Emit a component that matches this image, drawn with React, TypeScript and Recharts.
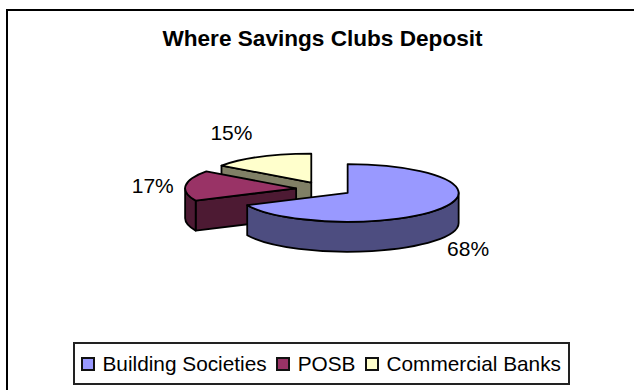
import React from 'react';
import { PieChart, Pie, Legend } from 'recharts';

const categories = ['Building Societies', 'POSB', 'Commercial Banks'];
const shares = [68, 17, 15];
const topColors = ['#9999FF', '#993366', '#FFFFCC'];
const sideColors = ['#4D4D80', '#4D1A33', '#808066'];

// last slice first, so the front slice paints over the ones behind it
const pieData = categories
  .map((name, i) => ({ name, value: shares[i], fill: topColors[i], side: sideColors[i] }))
  .reverse();

const SQUASH = 0.26;
const DEPTH = 30;
const EXPLODE = 28;
const LABEL_RX = 145;
const LABEL_RY = 74;
const LABEL_DROP = 16;

// hand placement for the percentage labels, by slice
const labelNudge: Record<string, [number, number]> = {
  'Building Societies': [-2, 0],
  POSB: [1, -12],
  'Commercial Banks': [-14, 0],
};

const rad = (deg: number) => (deg * Math.PI) / 180;

const rimPoint = (cx: number, cy: number, r: number, deg: number) => ({
  x: cx + r * Math.cos(rad(deg)),
  y: cy - r * SQUASH * Math.sin(rad(deg)),
});

// Centre of a slice once it is pulled out along its mid angle
const explodedCentre = (cx: number, cy: number, mid: number) => ({
  x: cx + EXPLODE * Math.cos(rad(mid)),
  y: cy - EXPLODE * SQUASH * Math.sin(rad(mid)),
});

const Slice3D = (props: any) => {
  const { cx, cy, outerRadius: r, startAngle, endAngle, fill, payload } = props;
  const s = Math.min(startAngle, endAngle);
  const e = Math.max(startAngle, endAngle);
  const c = explodedCentre(cx, cy, (s + e) / 2);
  const ry = r * SQUASH;
  const a = rimPoint(c.x, c.y, r, s);
  const b = rimPoint(c.x, c.y, r, e);
  const large = e - s > 180 ? 1 : 0;
  const faces: string[] = [];

  // Cut faces, only where they turn towards the viewer
  const cutFace = (p: { x: number; y: number }) =>
    `M${c.x},${c.y} L${p.x},${p.y} L${p.x},${p.y + DEPTH} L${c.x},${c.y + DEPTH} Z`;
  if (Math.sin(rad(s - 90)) < -1e-6) faces.push(cutFace(a));
  if (Math.sin(rad(e + 90)) < -1e-6) faces.push(cutFace(b));

  // Outer wall covers the part of the arc on the front half (180..360)
  const wallFrom = Math.max(s, 180);
  const wallTo = Math.min(e, 360);
  if (wallTo > wallFrom) {
    const p = rimPoint(c.x, c.y, r, wallFrom);
    const q = rimPoint(c.x, c.y, r, wallTo);
    faces.push(
      `M${p.x},${p.y} A${r},${ry} 0 0 0 ${q.x},${q.y} L${q.x},${q.y + DEPTH} A${r},${ry} 0 0 1 ${p.x},${p.y + DEPTH} Z`,
    );
  }

  return (
    <g>
      {faces.map((d) => (
        <path key={d} d={d} fill={payload.side} stroke="#000" strokeWidth={1.8} strokeLinejoin="round" />
      ))}
      <path
        d={`M${c.x},${c.y} L${a.x},${a.y} A${r},${ry} 0 ${large} 0 ${b.x},${b.y} Z`}
        fill={fill}
        stroke="#000"
        strokeWidth={1.8}
        strokeLinejoin="round"
      />
    </g>
  );
};

const renderLabel = (props: any) => {
  const { cx, cy, midAngle, value, name } = props;
  const c = explodedCentre(cx, cy, midAngle);
  const [dx, dy] = labelNudge[name] ?? [0, 0];
  return (
    <text
      x={c.x + LABEL_RX * Math.cos(rad(midAngle)) + dx}
      y={c.y - LABEL_RY * Math.sin(rad(midAngle)) + LABEL_DROP + dy}
      textAnchor="middle"
      dominantBaseline="central"
      fontFamily="Liberation Sans"
      fontSize={21}
      fill="#000"
    >
      {value}%
    </text>
  );
};

const LegendBox = () => (
  <div
    style={{
      boxSizing: 'border-box',
      width: 497,
      height: 43,
      border: '2px solid #222',
      background: '#fff',
      display: 'flex',
      alignItems: 'center',
      paddingLeft: 6,
      fontFamily: 'Liberation Sans',
      fontSize: 20.8,
      color: '#000',
      whiteSpace: 'nowrap',
    }}
  >
    {categories.map((name, i) => (
      <span key={name} style={{ display: 'flex', alignItems: 'center', marginRight: 9.5 }}>
        <span
          style={{
            boxSizing: 'border-box',
            width: 14,
            height: 14,
            marginRight: 7.5,
            border: '2px solid #111',
            background: topColors[i],
          }}
        />
        {name}
      </span>
    ))}
  </div>
);

export default function App() {
  return (
    <div style={{ position: 'absolute', left: 0, top: 0, width: 634, height: 390, background: '#fff', overflow: 'hidden' }}>
      {/* only the top and left edges of the chart frame fall inside the page */}
      <div
        style={{
          position: 'absolute',
          left: 6,
          top: 9,
          width: 660,
          height: 420,
          boxSizing: 'border-box',
          border: '2.5px solid #000',
        }}
      />
      <PieChart
        width={634}
        height={390}
        margin={{ top: 0, right: 0, bottom: 0, left: 0 }}
        style={{ position: 'absolute', left: 0, top: 0 }}
      >
        <text
          x={322.5}
          y={38}
          textAnchor="middle"
          dominantBaseline="central"
          fontFamily="Liberation Sans"
          fontWeight="bold"
          fontSize={22.6}
          fill="#000"
        >
          Where Savings Clubs Deposit
        </text>
        <Pie
          data={pieData}
          dataKey="value"
          nameKey="name"
          cx={324}
          cy={189}
          outerRadius={111}
          startAngle={90}
          endAngle={450}
          shape={Slice3D}
          label={renderLabel}
          labelLine={false}
          isAnimationActive={false}
        />
        <Legend
          content={<LegendBox />}
          layout="horizontal"
          wrapperStyle={{ position: 'absolute', left: 73, top: 342, width: 497, bottom: 'auto' }}
        />
      </PieChart>
    </div>
  );
}
